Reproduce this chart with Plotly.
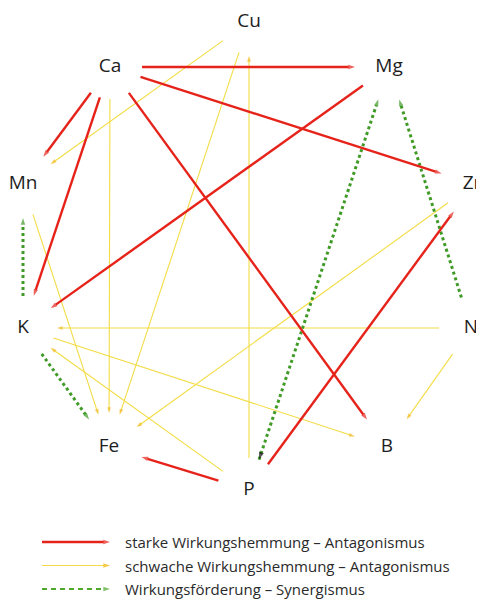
import math
import plotly.graph_objects as go

# ---- data ----
node_names = ["Cu", "Ca", "Mg", "Mn", "Zn", "K", "N", "Fe", "B", "P"]
node_x = [249, 110, 389, 23, 474, 23, 471, 109, 387, 249]
node_y = [22, 67, 67, 184, 184, 328, 328, 447, 447, 490]

strong_from = ["Ca", "Ca", "Ca", "Ca", "Ca", "Mg", "P", "P"]
strong_to = ["Mg", "Zn", "Mn", "K", "B", "K", "Zn", "Fe"]

weak_from = ["Cu", "Cu", "Ca", "P", "Zn", "N", "K", "P", "Mn", "N"]
weak_to = ["Mn", "Fe", "Fe", "Cu", "Fe", "K", "B", "K", "Fe", "B"]

syn_from = ["K", "K", "N", "P"]
syn_to = ["Mn", "Fe", "Mg", "Mg"]
syn_both = [False, False, False, True]

legend_labels = [
    "starke Wirkungshemmung – Antagonismus",
    "schwache Wirkungshemmung – Antagonismus",
    "Wirkungsförderung – Synergismus",
]

# ---- styles ----
RED = "#e6231b"
YEL_LINE = "#f3dc45"
YEL_HEAD = "#f0b400"
GREEN = "#3f9a26"
GREEN_LEG = "#4ea82a"
FONT = "Open Sans"
PAGE_MARGIN = 8  # default body margin of the html page

styles = {
    "strong": dict(line=dict(color=RED, width=2.4), head=RED, size=7),
    "weak": dict(line=dict(color=YEL_LINE, width=1.1), head=YEL_HEAD, size=6),
    "syn": dict(line=dict(color=GREEN, width=3, dash="dot"), head=GREEN, size=7),
}

pos = dict(zip(node_names, zip(node_x, node_y)))
G0, G1 = 32, 34


def segment(a, b):
    x0, y0 = pos[a]
    x1, y1 = pos[b]
    dx, dy = x1 - x0, y1 - y0
    L = math.hypot(dx, dy)
    ux, uy = dx / L, dy / L
    return (x0 + ux * G0, y0 + uy * G0), (x1 - ux * G1, y1 - uy * G1)


fig = go.Figure()


def add_arrow(p0, p1, kind, head_color=None):
    st = styles[kind]
    fig.add_trace(go.Scatter(
        x=[p0[0], p1[0]], y=[p0[1], p1[1]],
        mode="lines+markers",
        line=st["line"],
        marker=dict(symbol="arrow", size=[0, st["size"]], angleref="previous",
                    color=head_color or st["head"], line=dict(width=0)),
        hoverinfo="skip", showlegend=False,
    ))


for a, b in zip(weak_from, weak_to):
    p0, p1 = segment(a, b)
    add_arrow(p0, p1, "weak")

for a, b, both in zip(syn_from, syn_to, syn_both):
    p0, p1 = segment(a, b)
    add_arrow(p0, p1, "syn")
    if both:
        fig.add_trace(go.Scatter(
            x=[p1[0], p0[0]], y=[p1[1], p0[1]], mode="markers",
            marker=dict(symbol="arrow", size=[0, styles["syn"]["size"] + 1],
                        angleref="previous", color="#111111", line=dict(width=0)),
            hoverinfo="skip", showlegend=False,
        ))

for a, b in zip(strong_from, strong_to):
    p0, p1 = segment(a, b)
    add_arrow(p0, p1, "strong")

# node labels
fig.add_trace(go.Scatter(
    x=node_x, y=node_y, mode="text", text=node_names,
    textposition="middle center", cliponaxis=False,
    textfont=dict(family=FONT, size=19, color="#1e1e1e"),
    hoverinfo="skip", showlegend=False,
))

# legend (drawn manually)
kinds = ["strong", "weak", "syn"]
for i, (kind, label) in enumerate(zip(kinds, legend_labels)):
    ly = 542 + i * 23.5
    st = styles[kind]
    line = dict(st["line"])
    head = st["head"]
    if kind == "syn":
        line = dict(color=GREEN_LEG, width=2, dash="5px,4px")
        head = GREEN_LEG
    fig.add_trace(go.Scatter(
        x=[42, 110], y=[ly, ly], mode="lines+markers", line=line,
        marker=dict(symbol="arrow", size=[0, 7], angleref="previous",
                    color=head, line=dict(width=0)),
        hoverinfo="skip", showlegend=False,
    ))
    fig.add_annotation(x=123, y=ly, xref="x", yref="y", text=label,
                       showarrow=False, xanchor="left", yanchor="middle",
                       font=dict(family=FONT, size=15, color="#2a2a2a"))

W, H = 484, 599
fig.update_layout(
    width=W - PAGE_MARGIN, height=H - PAGE_MARGIN,
    margin=dict(l=0, r=0, t=0, b=0),
    paper_bgcolor="white", plot_bgcolor="white",
    xaxis=dict(range=[PAGE_MARGIN, W], visible=False, fixedrange=True),
    yaxis=dict(range=[H, PAGE_MARGIN], visible=False, fixedrange=True),
)

fig.write_html("out.html")
